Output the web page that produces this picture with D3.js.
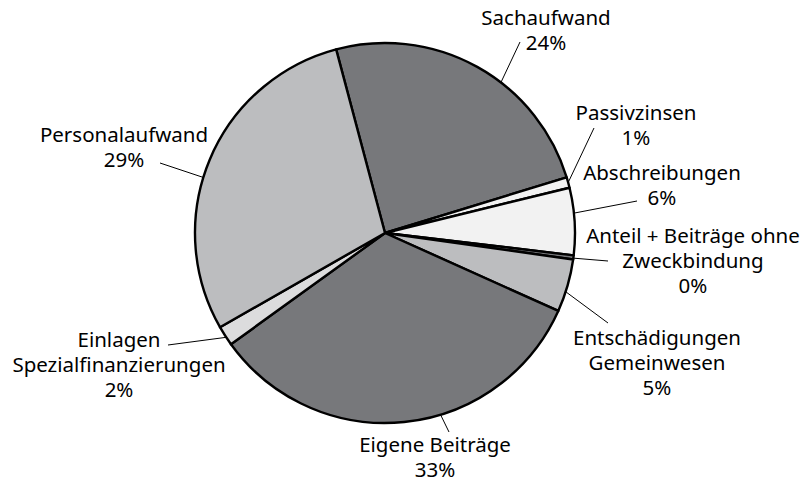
<!DOCTYPE html>
<html>
<head>
<meta charset="utf-8">
<script src="https://cdn.jsdelivr.net/npm/d3@7"></script>
<style>
  html, body { margin: 0; padding: 0; background: #ffffff; }
  svg { display: block; }
  text { font-family: "Noto Sans", "Open Sans", sans-serif; font-size: 20.5px; fill: #000; }
</style>
</head>
<body>
<svg id="chart" width="807" height="485"></svg>
<script>
// ---- data ----
const categories = ["Sachaufwand", "Passivzinsen", "Abschreibungen", "Anteil + Beiträge ohne Zweckbindung",
                    "Entschädigungen Gemeinwesen", "Eigene Beiträge", "Einlagen Spezialfinanzierungen", "Personalaufwand"];
const labelLines = [["Sachaufwand"], ["Passivzinsen"], ["Abschreibungen"], ["Anteil + Beiträge ohne", "Zweckbindung"],
                    ["Entschädigungen", "Gemeinwesen"], ["Eigene Beiträge"], ["Einlagen", "Spezialfinanzierungen"], ["Personalaufwand"]];
const values = [24.4, 0.9, 5.7, 0.35, 4.5, 33.3, 1.7, 29.1];
const colors = ["#77787b", "#f2f2f2", "#f2f2f2", "#77787b", "#bcbdbf", "#77787b", "#dcdcdd", "#bcbdbf"];

// ---- layout (positions relative to pie centre) ----
const cx = 385, cy = 233, radius = 190;
const startDeg = -14.9;
// leader: angle on rim (deg, clockwise from north), outer end (dx, dy); label: centre x offset, first baseline offset
const leaderAngle = [37.6, 74.6, 84, 97.6, 108, 163, 236.7, 287];
const leaderEnd = [[135, -191], [209, -105], [252, -32], [223, 28], [223, 90], [64, 199], [-217, 112], [-225, -70]];
const labelPos = [[161, -208], [251, -113], [277, -53], [308, 10], [272, 112], [50, 219], [-266, 114], [-261, -91]];
const lineH = 25;

const svg = d3.select("#chart");
const g = svg.append("g").attr("transform", `translate(${cx},${cy})`);

const pie = d3.pie().sort(null).value(d => d)
  .startAngle(startDeg * Math.PI / 180)
  .endAngle(startDeg * Math.PI / 180 + 2 * Math.PI);
const arc = d3.arc().innerRadius(0).outerRadius(radius);

g.selectAll("path.slice")
  .data(pie(values))
  .join("path")
  .attr("class", "slice")
  .attr("d", arc)
  .attr("fill", (d, i) => colors[i])
  .attr("stroke", "#000")
  .attr("stroke-width", 2.4)
  .attr("stroke-linejoin", "round");

// leader lines
const rim = a => [radius * Math.sin(a * Math.PI / 180), -radius * Math.cos(a * Math.PI / 180)];
g.selectAll("line.leader")
  .data(values)
  .join("line")
  .attr("class", "leader")
  .attr("x1", (d, i) => rim(leaderAngle[i])[0])
  .attr("y1", (d, i) => rim(leaderAngle[i])[1])
  .attr("x2", (d, i) => leaderEnd[i][0])
  .attr("y2", (d, i) => leaderEnd[i][1])
  .attr("stroke", "#000")
  .attr("stroke-width", 1);

// labels
const total = d3.sum(values);
const lbl = g.selectAll("text.lbl")
  .data(values)
  .join("text")
  .attr("class", "lbl")
  .attr("text-anchor", "middle")
  .attr("x", (d, i) => labelPos[i][0])
  .attr("y", (d, i) => labelPos[i][1]);
lbl.each(function(d, i) {
  const t = d3.select(this);
  const lines = labelLines[i].concat([Math.round(d / total * 100) + "%"]);
  lines.forEach((s, k) => {
    t.append("tspan").attr("x", labelPos[i][0]).attr("dy", k === 0 ? 0 : lineH).text(s);
  });
});
</script>
</body>
</html>
